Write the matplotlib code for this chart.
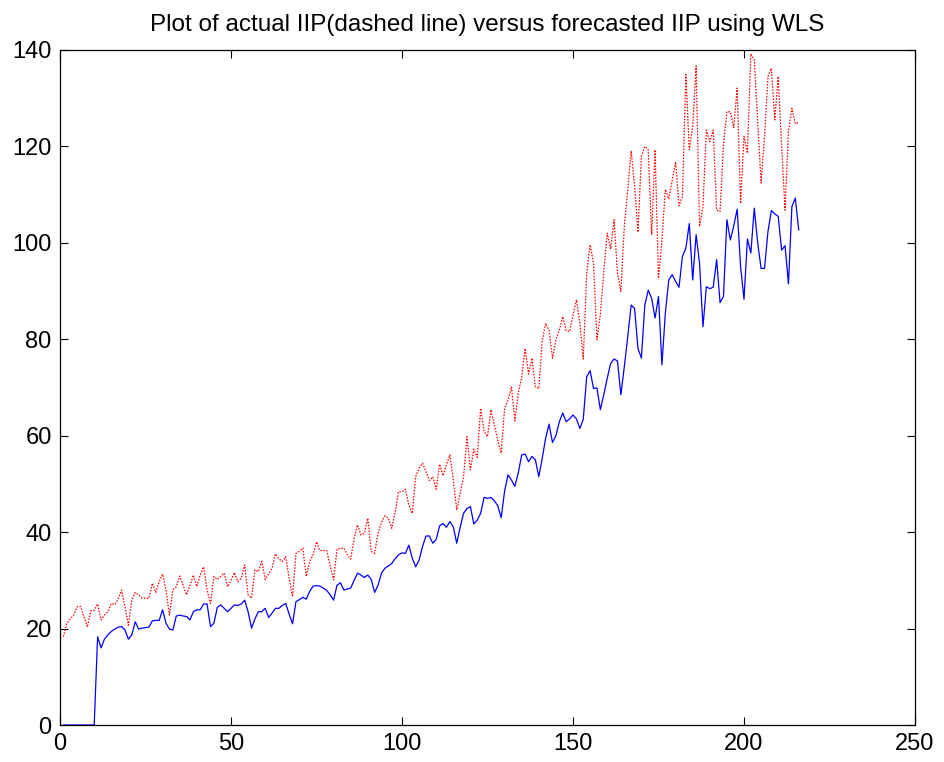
import numpy as np
import matplotlib
matplotlib.use("Agg")
import matplotlib.pyplot as plt

plt.rcParams['font.family'] = ['Liberation Sans', 'DejaVu Sans']

# Actual IIP (red dotted)
actual_iip = [
    18.3, 21.1, 22.0, 22.8, 24.5, 24.6, 22.5, 20.3, 23.7, 23.8,
    25.1, 21.8, 22.8, 23.5, 25.2, 25.0, 26.1, 28.0, 24.5, 20.7,
    25.9, 27.5, 27.0, 26.3, 26.3, 26.3, 29.4, 27.5, 29.7, 31.3,
    28.0, 22.8, 28.0, 28.7, 30.9, 29.0, 27.0, 29.0, 31.1, 28.7,
    31.1, 32.8, 28.0, 25.2, 30.8, 30.2, 30.8, 31.5, 28.7, 30.0,
    31.6, 29.7, 30.4, 33.2, 27.0, 26.3, 32.2, 31.8, 33.9, 30.2,
    31.3, 32.5, 35.5, 34.5, 33.9, 34.9, 30.4, 26.6, 35.6, 36.0,
    36.7, 30.8, 33.9, 35.3, 38.0, 36.2, 36.2, 36.2, 33.0, 30.1,
    36.5, 36.6, 36.7, 35.3, 34.4, 38.7, 41.5, 39.4, 39.8, 42.9,
    36.0, 35.6, 39.8, 42.0, 43.4, 42.9, 40.8, 44.1, 48.4, 48.4,
    48.9, 45.6, 43.9, 51.5, 53.3, 54.3, 52.6, 50.7, 51.5, 48.9,
    54.1, 51.7, 54.0, 56.0, 50.8, 44.6, 48.0, 51.5, 59.8, 52.9,
    57.2, 55.5, 65.7, 60.9, 59.8, 65.4, 62.2, 59.1, 56.4, 65.7,
    67.4, 70.1, 63.1, 68.9, 72.2, 78.1, 72.8, 76.1, 70.1, 69.8,
    79.7, 83.3, 81.8, 76.1, 79.9, 81.9, 84.7, 81.8, 81.6, 85.0,
    88.2, 83.3, 75.9, 93.7, 99.6, 95.8, 79.9, 85.1,
    94.0, 102.0, 98.7, 104.8, 93.7, 89.9, 103.4, 111.0, 119.1, 112.0,
    102.2, 118.0, 120.0, 119.3, 101.7, 119.3, 92.6, 100.6, 111.1, 109.1,
    113.0, 116.8, 107.7, 109.6, 134.9, 119.3, 124.1, 136.7, 103.4, 107.5,
    123.4, 121.0, 123.4, 106.8, 106.5, 120.3, 127.2, 127.2, 123.9, 132.1,
    108.2, 122.1, 118.6, 139.2, 138.0, 125.0, 112.4, 122.0, 134.5, 136.2,
    125.5, 134.5, 120.0, 106.8, 123.1, 127.9, 124.7, 125.0,
]

# Forecasted IIP using WLS (blue solid)
forecast_iip = [
    0, 0, 0, 0, 0, 0, 0, 0, 0, 0,
    18.3, 16.0, 17.8, 18.7, 19.4, 19.9, 20.3, 20.4, 19.7, 17.8,
    18.7, 21.4, 19.9, 20.1, 20.2, 20.3, 21.6, 21.7, 21.7, 23.9,
    21.1, 19.9, 19.7, 22.6, 22.8, 22.6, 22.5, 21.8, 23.5, 23.9,
    23.9, 25.1, 25.1, 20.4, 21.1, 24.4, 24.9, 24.2, 23.5, 24.2,
    24.9, 24.8, 25.1, 25.9, 23.5, 20.1, 22.0, 23.5, 23.5, 24.2,
    22.3, 23.2, 24.2, 24.2, 24.8, 25.2, 23.0, 21.0, 25.6, 26.0,
    26.5, 26.1, 27.7, 28.8, 28.9, 28.8, 28.4, 27.9, 27.0, 25.9,
    29.0, 29.5, 28.0, 28.2, 28.4, 30.0, 31.5, 31.1, 30.6, 31.1,
    30.2, 27.5, 29.0, 31.5, 32.5, 33.0, 33.5, 34.5, 35.3, 35.7,
    35.6, 37.3, 34.6, 32.8, 34.2, 37.0, 39.2, 39.2, 37.7, 38.5,
    41.3, 41.8, 41.0, 42.2, 41.1, 37.7, 41.0, 43.9, 44.9, 45.3,
    41.7, 42.5, 43.9, 47.2, 47.0, 47.2, 46.5, 45.5, 43.0, 48.5,
    51.9, 50.8, 49.5, 52.3, 56.0, 56.2, 54.6, 55.7, 55.0, 51.5,
    55.3, 59.5, 62.4, 58.6, 60.0, 62.9, 64.7, 62.9, 63.5, 64.3,
    63.5, 61.5, 63.4, 72.2, 73.5, 69.8, 69.9, 65.4, 68.5, 71.9,
    75.0, 75.9, 75.5, 68.5, 74.3, 80.5, 87.1, 86.4, 78.1, 76.1,
    87.1, 90.2, 88.5, 84.4, 88.9, 74.7, 85.4, 92.3, 93.4, 92.0,
    90.8, 97.2, 98.9, 104.0, 92.3, 101.7, 95.8, 82.6, 90.9, 90.5,
    90.8, 96.5, 87.6, 88.9, 104.8, 100.6, 103.5, 107.0, 95.1, 88.3,
    100.8, 97.9, 107.2, 100.0, 94.7, 94.7, 102.3, 106.7, 106.0, 105.5,
    98.5, 99.4, 91.5, 107.5, 109.3, 102.7,
]

x_ticks = [0, 50, 100, 150, 200, 250]
y_ticks = [0, 20, 40, 60, 80, 100, 120, 140]
title = "Plot of actual IIP(dashed line) versus forecasted IIP using WLS"

t_actual = np.arange(1, len(actual_iip) + 1)
t_forecast = np.arange(1, len(forecast_iip) + 1)

fig = plt.figure(figsize=(9.44, 7.62), dpi=100)
ax = fig.add_axes([60 / 944, 1 - 725 / 762, 855 / 944, 675 / 762])

ax.plot(t_actual, actual_iip, color='#ff0000', linestyle=(0, (1.2, 1.2)),
        linewidth=0.9)
ax.plot(t_forecast, forecast_iip, color='#0000ff', linestyle='-', linewidth=0.9)

ax.set_xlim(0, 250)
ax.set_ylim(0, 140)
ax.set_xticks(x_ticks)
ax.set_yticks(y_ticks)
ax.tick_params(direction='in', top=True, right=True, length=6, width=0.8,
               labelsize=17, pad=6)
for s in ax.spines.values():
    s.set_linewidth(0.9)
ax.set_title(title, fontsize=17.5, pad=14)

fig.savefig("out.png", dpi=100)
